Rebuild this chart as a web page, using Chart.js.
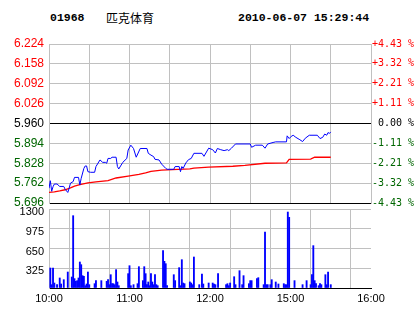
<!DOCTYPE html>
<html>
<head>
<meta charset="utf-8">
<script src="https://cdn.jsdelivr.net/npm/chart.js@4/dist/chart.umd.min.js"></script>
<style>
  body { margin: 0; background: #fff; }
  #wrap { position: relative; width: 414px; height: 314px; overflow: hidden; background: #fff; }
  #wrap canvas { position: absolute; left: 0; top: 0; }
  .hd { position: absolute; top: 11px; line-height: 12px; font: bold 11.5px "Liberation Mono", monospace; color: #000; white-space: pre; }
  .cn { position: absolute; top: 9px; line-height: 12px; font: 12px "Noto Sans CJK SC", sans-serif; color: #000; }
</style>
</head>
<body>
<div id="wrap">
  <div class="hd" style="left:50px">01968</div>
  <div class="cn" style="left:106px">匹克体育</div>
  <div class="hd" style="left:238px">2010-06-07 15:29:44</div>
  <canvas id="price" width="414" height="314"></canvas>
  <canvas id="vol" width="414" height="314"></canvas>
</div>
<script>
// previous close, used for colouring and the % axis
const prevClose = 5.96;

// left / right axis ticks
const priceTicks = [5.696, 5.762, 5.828, 5.894, 5.960, 6.026, 6.092, 6.158, 6.224];
const pctLabels = ['-4.43 %', '-3.32 %', '-2.21 %', '-1.11 %', ' 0.00 %', '+1.11 %', '+2.21 %', '+3.32 %', '+4.43 %'];
const volTicks = [0, 325, 650, 975, 1300];

// trading minutes since 10:00 (10:00-12:30, 14:30-16:00)
const timeTicks = [0, 30, 60, 90, 120, 150, 180, 210, 240];
const timeLabels = { 0: '10:00', 60: '11:00', 120: '12:00', 180: '15:00', 240: '16:00' };

// last price (blue)
const priceMinutes = [0, 1, 2, 3, 4, 6, 8, 11, 12, 14, 15, 16, 18, 19, 22, 23, 24, 26, 27, 28, 29, 31, 34, 35, 38, 40, 42, 43, 44, 46, 47, 50, 51, 52, 55, 58, 59, 61, 63, 65, 68, 73, 74, 76, 78, 79, 82, 84, 87, 88, 93, 94, 97, 98, 99, 100, 102, 104, 106, 108, 114, 115.5, 119, 122, 124, 125.5, 128, 130.5, 133, 134, 136, 139, 150, 151, 154, 159, 161, 163, 167, 169, 177, 177.5, 179, 180.5, 182, 184, 187, 189, 191, 194, 200, 202, 204, 205.5, 207, 208, 209, 210];
const priceValues = [5.745, 5.770, 5.735, 5.750, 5.759, 5.759, 5.751, 5.751, 5.742, 5.731, 5.745, 5.762, 5.767, 5.781, 5.781, 5.756, 5.778, 5.811, 5.819, 5.819, 5.800, 5.798, 5.798, 5.817, 5.839, 5.831, 5.831, 5.828, 5.844, 5.844, 5.848, 5.848, 5.817, 5.809, 5.831, 5.844, 5.872, 5.888, 5.877, 5.848, 5.877, 5.877, 5.861, 5.855, 5.850, 5.841, 5.839, 5.825, 5.811, 5.808, 5.808, 5.817, 5.817, 5.800, 5.817, 5.811, 5.829, 5.840, 5.844, 5.861, 5.861, 5.851, 5.878, 5.873, 5.862, 5.877, 5.873, 5.870, 5.873, 5.870, 5.878, 5.892, 5.892, 5.881, 5.888, 5.888, 5.878, 5.892, 5.897, 5.899, 5.899, 5.919, 5.910, 5.917, 5.921, 5.914, 5.906, 5.900, 5.911, 5.921, 5.921, 5.910, 5.914, 5.925, 5.921, 5.930, 5.927, 5.932];

// average price (red)
const avgMinutes = [0, 4, 8, 12, 16, 19, 23, 29, 35, 44, 50, 59, 67, 72, 76, 84, 92, 105, 108, 119, 137, 146, 161, 177, 179, 195, 198, 210];
const avgValues = [5.731, 5.733, 5.736, 5.740, 5.746, 5.752, 5.757, 5.763, 5.766, 5.770, 5.779, 5.785, 5.791, 5.796, 5.801, 5.805, 5.807, 5.809, 5.812, 5.815, 5.818, 5.821, 5.828, 5.829, 5.841, 5.842, 5.848, 5.848];

// volume per minute
const volMinutes = [1, 2, 3, 4, 6, 8, 9, 11, 14, 17, 18, 19, 20, 21, 22, 23, 24, 25, 26, 27, 28, 29, 30, 34, 35, 39, 43, 44, 45, 46, 47, 48, 49, 50, 51, 52, 59, 60, 61, 63, 66, 67, 70, 71, 72, 73, 74, 75, 76, 77, 78, 79, 80, 81, 85, 86, 87, 88, 93, 94, 97, 98, 99, 100, 101, 105, 106, 107, 108, 112, 114, 115, 119, 122, 123, 124, 126, 132, 133, 134, 135, 138, 139, 142, 144, 145, 149, 150, 151, 155, 156, 160, 161, 162, 163, 165, 166, 169, 171, 175, 176, 177, 178, 179, 183, 189, 192, 195, 196, 197, 198, 199, 201, 202, 203, 206, 207, 208, 210];
const volValues = [329, 55, 329, 82, 55, 165, 66, 137, 263, 181, 1190, 154, 110, 121, 165, 428, 384, 203, 192, 38, 66, 263, 55, 71, 121, 121, 110, 137, 55, 219, 71, 71, 55, 302, 99, 38, 236, 367, 38, 55, 71, 351, 121, 351, 236, 55, 99, 38, 236, 99, 55, 219, 55, 38, 614, 439, 400, 38, 219, 121, 335, 38, 466, 82, 71, 100, 82, 55, 510, 55, 230, 66, 82, 82, 66, 55, 236, 55, 71, 38, 82, 186, 55, 285, 55, 203, 71, 121, 121, 154, 170, 55, 921, 55, 55, 55, 137, 99, 66, 71, 55, 55, 1250, 1163, 121, 55, 121, 55, 219, 697, 121, 71, 38, 71, 55, 219, 55, 263, 55];

const RED = '#ff0000';
const GREEN = '#006600';
const GRID = '#c0c0c0';

Chart.defaults.font.family = '"Liberation Sans", Arial, sans-serif';
Chart.defaults.color = '#000';

const priceColor = (v) => {
  if (Math.abs(v - prevClose) < 1e-6) return '#000';
  return v > prevClose ? RED : GREEN;
};

const xTickSetup = (axis) => { axis.ticks = timeTicks.map(v => ({ value: v })); };

// Price chart
new Chart(document.getElementById('price'), {
  type: 'line',
  data: {
    datasets: [
      {
        data: priceMinutes.map((m, i) => ({ x: m, y: priceValues[i] })),
        borderColor: '#0000ff',
        borderWidth: 1,
        pointRadius: 0,
        tension: 0
      },
      {
        data: avgMinutes.map((m, i) => ({ x: m, y: avgValues[i] })),
        borderColor: RED,
        borderWidth: 1.3,
        pointRadius: 0,
        stepped: false,
        tension: 0
      }
    ]
  },
  options: {
    responsive: false,
    animation: false,
    layout: { padding: { top: 44, bottom: 111, left: 0, right: 0 } },
    plugins: { legend: { display: false }, tooltip: { enabled: false } },
    scales: {
      x: {
        type: 'linear',
        min: 0,
        max: 240,
        afterBuildTicks: xTickSetup,
        afterFit: (s) => { s.height = 0; },
        ticks: { display: false },
        grid: { color: GRID, drawTicks: false },
        border: { color: '#000' }
      },
      y: {
        position: 'left',
        min: 5.696,
        max: 6.224,
        afterBuildTicks: (axis) => { axis.ticks = priceTicks.map(v => ({ value: v })); },
        afterFit: (s) => { s.width = 49; },
        ticks: {
          padding: 5,
          font: { size: 12 },
          color: (ctx) => priceColor(ctx.tick.value),
          callback: (v) => v.toFixed(3)
        },
        grid: {
          drawTicks: false,
          color: (ctx) => {
            const v = ctx.tick.value;
            if (Math.abs(v - prevClose) < 1e-6 || Math.abs(v - 5.696) < 1e-6) return '#000';
            return GRID;
          }
        },
        border: { color: GRID }
      },
      y2: {
        position: 'right',
        min: 5.696,
        max: 6.224,
        afterBuildTicks: (axis) => { axis.ticks = priceTicks.map(v => ({ value: v })); },
        afterFit: (s) => { s.width = 43; },
        ticks: {
          padding: 1,
          font: { family: '"DejaVu Sans Mono", monospace', size: 10 },
          color: (ctx) => priceColor(ctx.tick.value),
          callback: (v, i) => pctLabels[i]
        },
        grid: { drawOnChartArea: false, drawTicks: false },
        border: { color: GRID }
      }
    }
  }
});

// Volume chart
new Chart(document.getElementById('vol'), {
  type: 'bar',
  data: {
    datasets: [{
      data: volMinutes.map((m, i) => ({ x: m, y: volValues[i] })),
      backgroundColor: '#0000ff',
      barThickness: 1.2
    }]
  },
  options: {
    responsive: false,
    animation: false,
    layout: { padding: { top: 209, bottom: 0, left: 0, right: 43 } },
    plugins: { legend: { display: false }, tooltip: { enabled: false } },
    scales: {
      x: {
        type: 'linear',
        offset: false,
        min: 0,
        max: 240,
        afterBuildTicks: xTickSetup,
        afterFit: (s) => { s.height = 26; },
        ticks: {
          autoSkip: false,
          maxRotation: 0,
          padding: 4,
          font: { size: 11 },
          callback: (v) => timeLabels[v] || ''
        },
        grid: { color: GRID, drawTicks: false },
        border: { color: '#000' }
      },
      y: {
        min: 0,
        max: 1300,
        afterBuildTicks: (axis) => { axis.ticks = volTicks.map(v => ({ value: v })); },
        afterFit: (s) => { s.width = 49; },
        ticks: {
          padding: 5,
          labelOffset: 3,
          font: { size: 11 },
          callback: (v) => (v === 0 ? '' : v)
        },
        grid: {
          drawTicks: false,
          color: (ctx) => (ctx.tick.value === 0 ? '#000' : GRID)
        },
        border: { color: GRID }
      }
    }
  }
});
</script>
</body>
</html>
